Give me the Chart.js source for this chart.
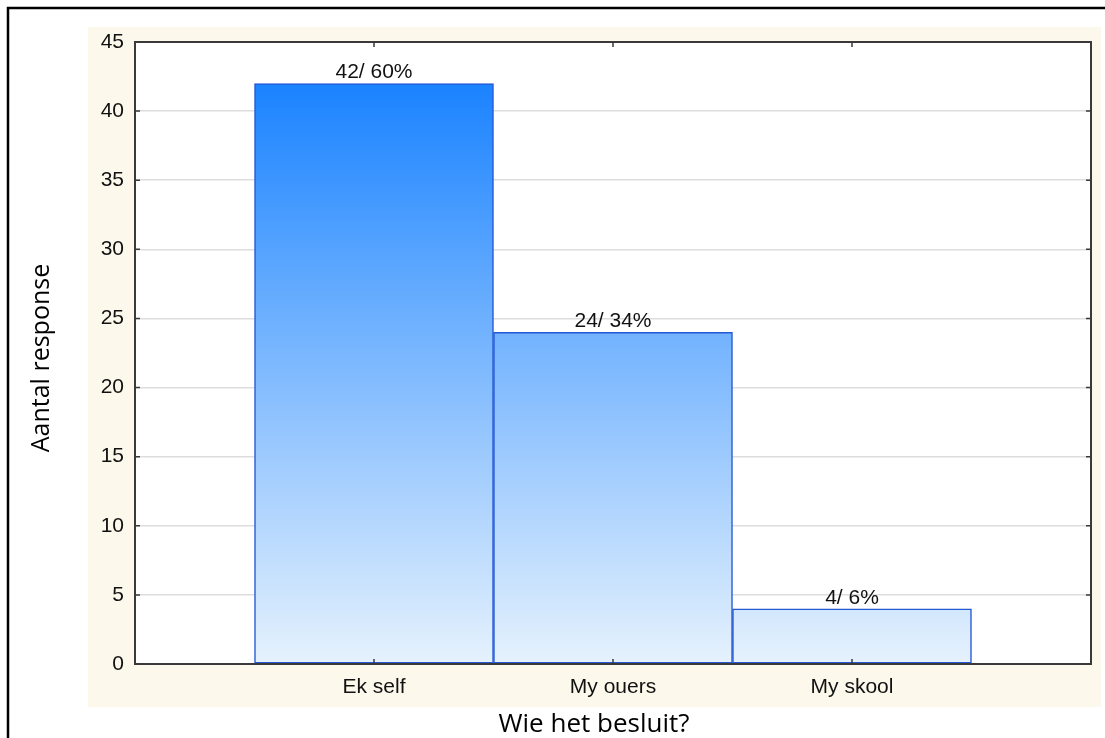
<!DOCTYPE html>
<html>
<head>
<meta charset="utf-8">
<script src="https://cdn.jsdelivr.net/npm/chart.js@4/dist/chart.umd.min.js"></script>
<style>
  html, body { margin: 0; padding: 0; background: #fff; }
  #wrap { width: 1105px; height: 738px; }
</style>
</head>
<body>
<div id="wrap"><canvas id="besluit-chart"></canvas></div>
<script>
// data
const categories = ['Ek self', 'My ouers', 'My skool'];
const counts = [42, 24, 4];
const percents = [60, 34, 6];
const yTicks = [0, 5, 10, 15, 20, 25, 30, 35, 40, 45];

// empty slot on each side so bars sit on ticks 1..3 of a 0..4 axis
const labels = [''].concat(categories, ['']);
const values = [null].concat(counts, [null]);

const ctx = document.getElementById('besluit-chart');
const tickFont = '"Liberation Sans", Arial, sans-serif';

// frame, beige panel, plot box, inner ticks, bar labels, axis titles
const framePlugin = {
  id: 'frame',
  beforeDraw(chart) {
    const c = chart.ctx;
    const a = chart.chartArea;
    c.save();
    c.fillStyle = '#ffffff';
    c.fillRect(0, 0, chart.width, chart.height);
    c.fillStyle = '#fdf8ec';
    c.fillRect(88, 27, 1013, 680);
    c.fillStyle = '#ffffff';
    c.fillRect(a.left, a.top, a.right - a.left, a.bottom - a.top);
    // outer black border
    c.strokeStyle = '#000';
    c.lineWidth = 2.5;
    c.beginPath();
    c.moveTo(8, chart.height);
    c.lineTo(8, 8);
    c.lineTo(chart.width, 8);
    c.stroke();
    c.restore();
  },
  afterDatasetsDraw(chart) {
    const c = chart.ctx;
    const a = chart.chartArea;
    const xs = chart.scales.x;
    const ys = chart.scales.y;
    c.save();
    // plot box
    c.strokeStyle = '#3a3a3a';
    c.lineWidth = 2;
    c.strokeRect(a.left, a.top, a.right - a.left, a.bottom - a.top);
    // inner tick marks
    c.lineWidth = 1.5;
    c.beginPath();
    yTicks.forEach(v => {
      const py = ys.getPixelForValue(v);
      c.moveTo(a.left, py); c.lineTo(a.left + 5, py);
      c.moveTo(a.right, py); c.lineTo(a.right - 5, py);
    });
    categories.forEach((cat, i) => {
      const px = xs.getPixelForValue(i + 1);
      c.moveTo(px, a.bottom); c.lineTo(px, a.bottom - 5);
      c.moveTo(px, a.top); c.lineTo(px, a.top + 5);
    });
    c.stroke();

    // value labels above the bars
    const meta = chart.getDatasetMeta(0);
    c.fillStyle = '#111';
    c.font = '21px ' + tickFont;
    c.textAlign = 'center';
    c.textBaseline = 'alphabetic';
    counts.forEach((n, i) => {
      const bar = meta.data[i + 1];
      c.fillText(n + '/ ' + percents[i] + '%', bar.x, bar.y - 5);
    });

    // axis titles
    c.fillStyle = '#000';
    c.textBaseline = 'middle';
    c.font = '26px "Open Sans", sans-serif';
    c.fillText('Wie het besluit?', 594, 725);
    c.font = '25px "Open Sans", sans-serif';
    c.translate(42, 358);
    c.rotate(-Math.PI / 2);
    c.fillText('Aantal response', 0, 0);
    c.restore();
  }
};

new Chart(ctx, {
  type: 'bar',
  data: {
    labels: labels,
    datasets: [{
      data: values,
      backgroundColor: (context) => {
        const area = context.chart.chartArea;
        if (!area) return '#6fb0ff';
        const g = context.chart.ctx.createLinearGradient(0, area.top, 0, area.bottom);
        g.addColorStop(0, '#0c7bff');
        g.addColorStop(1, '#e6f2fd');
        return g;
      },
      borderColor: '#2458d4',
      borderWidth: 1.5,
      borderSkipped: false,
      categoryPercentage: 1,
      barPercentage: 1
    }]
  },
  options: {
    responsive: true,
    maintainAspectRatio: false,
    animation: false,
    layout: {
      padding: { left: 0, top: 42, right: 14, bottom: 0 }
    },
    plugins: {
      legend: { display: false },
      tooltip: { enabled: false }
    },
    scales: {
      x: {
        offset: false,
        grid: { display: false, drawTicks: false },
        border: { display: false },
        ticks: {
          autoSkip: false,
          maxRotation: 0,
          padding: 11,
          color: '#111',
          font: { family: tickFont, size: 21 }
        },
        afterFit: (scale) => { scale.height = 74; }
      },
      y: {
        min: 0,
        max: 45,
        grid: { color: '#dddddd', lineWidth: 1.5, drawTicks: false },
        border: { display: false },
        ticks: {
          stepSize: 5,
          padding: 11,
          color: '#111',
          font: { family: tickFont, size: 21 }
        },
        afterFit: (scale) => { scale.width = 135; }
      }
    }
  },
  plugins: [framePlugin]
});
</script>
</body>
</html>
